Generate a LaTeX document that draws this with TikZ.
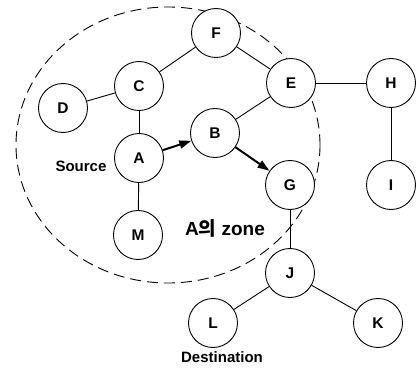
\documentclass[tikz,border=0pt]{standalone}
\usepackage{fontspec}
\setmainfont{Liberation Sans}
\newfontfamily\krfont{Noto Sans CJK KR}
\usetikzlibrary{arrows.meta}

\begin{document}
\begin{tikzpicture}[x=1pt, y=-1pt,
  station/.style={circle, draw, fill=white, line width=0.9pt,
    minimum size=49pt, inner sep=0pt,
    font=\bfseries\fontsize{15.5}{15.5}\selectfont},
  link/.style={line width=0.9pt},
  hop/.style={line width=2pt, -{Triangle[length=12pt, width=8pt]}},
  tag/.style={font=\bfseries\fontsize{15}{15}\selectfont, inner sep=0pt},
  zone/.style={line width=0.9pt, dash pattern=on 11pt off 6pt}]
\useasboundingbox (0,0) rectangle (416,369);

% zone boundary, drawn first so the stations cover it
\draw[zone] (168,145) ellipse [x radius=152, y radius=138];

% stations
\node[station] (F) at (216,33)  {F};
\node[station] (C) at (139,86)  {C};
\node[station] (E) at (291,83)  {E};
\node[station] (H) at (391,83)  {H};
\node[station] (D) at (63,108)  {D};
\node[station] (B) at (215,133) {B};
\node[station] (A) at (139,158) {A};
\node[station] (G) at (290,185) {G};
\node[station] (I) at (391,185) {I};
\node[station] (M) at (138,235) {M};
\node[station] (J) at (290,273) {J};
\node[station] (L) at (213,323) {L};
\node[station] (K) at (378,323) {K};

% links
\draw[link] (C) -- (F);
\draw[link] (F) -- (E);
\draw[link] (D) -- (C);
\draw[link] (C) -- (A);
\draw[link] (A) -- (M);
\draw[link] (B) -- (E);
\draw[link] (E) -- (H);
\draw[link] (H) -- (I);
\draw[link] (G) -- (J);
\draw[link] (J) -- (L);
\draw[link] (J) -- (K);

% route taken
\draw[hop] (A) -- (B);
\draw[hop] (B) -- (G);

% labels
\node[tag] (src) at (81,166) {Source};
\node[tag, font=\bfseries\fontsize{19}{19}\selectfont] (zn) at (225,228) {A{\krfont 의} zone};
\node[tag] (dst) at (222,357) {Destination};
\end{tikzpicture}
\end{document}
